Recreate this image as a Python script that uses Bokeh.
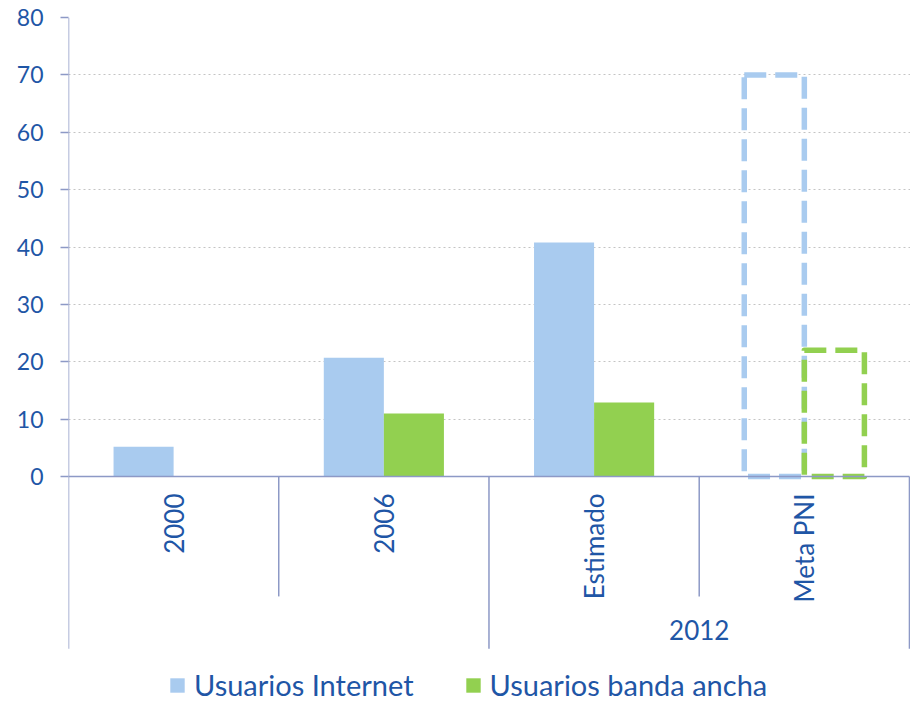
import math
from bokeh.plotting import figure
from bokeh.models import Range1d, FixedTicker, Legend, LegendItem, ColumnDataSource
from bokeh.core.properties import value
from bokeh.embed import file_html
from bokeh.resources import INLINE

# ---- data ----
categories = ["2000", "2006", "Estimado", "Meta PNI"]
groups = ["", "", "2012", "2012"]
internet = [5.2, 20.7, 40.8, 70.0]
banda = [0.0, 11.0, 12.9, 22.0]
is_target = [False, False, False, True]
y_ticks = [0, 10, 20, 30, 40, 50, 60, 70, 80]
series_names = ["Usuarios Internet", "Usuarios banda ancha"]

# ---- style ----
BLUE = "#A9CBEF"
GREEN = "#92D050"
AXIS = "#8D99C6"
TEXT = "#1F56A6"
GRID = "#C4C4C4"
FONT = "Lato"

n = len(categories)
bw = 60 / 210
xc = [i + 0.5 for i in range(n)]
x_int = [c - bw / 2 for c in xc]
x_ban = [c + bw / 2 for c in xc]

PX_PER_UNIT = 459 / 80
TOP = 17
H = 702
frame_h = H - TOP
y_bottom = 80 - frame_h / PX_PER_UNIT

p = figure(width=910, height=H,
           x_range=Range1d(0, n + 0.005), y_range=Range1d(y_bottom, 80),
           output_backend="svg", toolbar_location=None,
           x_axis_location=None,
           min_border_left=68, min_border_right=0,
           min_border_top=TOP, min_border_bottom=0)
p.outline_line_color = None
p.background_fill_color = "white"
p.xgrid.visible = False
p.ygrid.ticker = FixedTicker(ticks=y_ticks[1:])
p.ygrid.grid_line_color = GRID
p.ygrid.grid_line_dash = "2 3"
p.ygrid.grid_line_width = 1

ax = p.yaxis[0]
ax.ticker = FixedTicker(ticks=y_ticks)
ax.axis_line_color = None
ax.major_tick_line_color = AXIS
ax.major_tick_line_width = 1.5
ax.major_tick_in = 0
ax.major_tick_out = 8
ax.minor_tick_line_color = None
ax.major_label_standoff = 17
ax.major_label_text_font = FONT
ax.major_label_text_font_size = "23px"
ax.major_label_text_color = TEXT

solid = [i for i in range(n) if not is_target[i]]
target = [i for i in range(n) if is_target[i]]

src_int = ColumnDataSource(dict(x=[x_int[i] for i in solid], top=[internet[i] for i in solid]))
src_ban = ColumnDataSource(dict(x=[x_ban[i] for i in solid], top=[banda[i] for i in solid]))
src_int_t = ColumnDataSource(dict(x=[x_int[i] for i in target], top=[internet[i] for i in target]))
src_ban_t = ColumnDataSource(dict(x=[x_ban[i] for i in target], top=[banda[i] for i in target]))

r_int = p.vbar(x="x", top="top", bottom=0, width=bw, source=src_int, fill_color=BLUE, line_color=None)
r_ban = p.vbar(x="x", top="top", bottom=0, width=bw, source=src_ban, fill_color=GREEN, line_color=None)
p.vbar(x="x", top="top", bottom=0, width=bw, source=src_int_t, fill_alpha=0,
       line_color=BLUE, line_width=5.5, line_dash="22 9", line_join="round")
p.vbar(x="x", top="top", bottom=0, width=bw, source=src_ban_t, fill_alpha=0,
       line_color=GREEN, line_width=5.5, line_dash="22 9", line_join="round")

# value axis line (from bottom of category area to top)
long_depth, short_depth = -30, -20.9
p.segment(x0=[0], y0=[long_depth], x1=[0], y1=[y_ticks[-1]], line_color=AXIS, line_width=1.5)

# category axis: baseline and separators
p.segment(x0=[0], y0=[0], x1=[n], y1=[0], line_color=AXIS, line_width=1.5)
bx, by = [], []
for b in range(1, n + 1):
    edge = b == n
    differ = (not edge) and groups[b - 1] != groups[b]
    bx.append(b)
    by.append(long_depth if (edge or differ) else short_depth)
p.segment(x0=bx, y0=[0] * len(bx), x1=bx, y1=by, line_color=AXIS, line_width=1.5)

p.text(x=xc, y=[0] * n, text=categories, angle=math.pi / 2,
       text_align="right", text_baseline="middle", y_offset=17,
       text_font=value(FONT), text_font_size="26px", text_color=TEXT)

grp_names, grp_x = [], []
for g in dict.fromkeys(groups):
    if g:
        idx = [i for i in range(n) if groups[i] == g]
        grp_names.append(g)
        grp_x.append(sum(xc[i] for i in idx) / len(idx))
p.text(x=grp_x, y=[0] * len(grp_x), text=grp_names, text_align="center",
       text_baseline="middle", y_offset=153,
       text_font=value(FONT), text_font_size="26px", text_color=TEXT)

legend = Legend(items=[LegendItem(label=series_names[0], renderers=[r_int]),
                       LegendItem(label=series_names[1], renderers=[r_ban])],
                orientation="horizontal", location=(100, 0),
                label_text_font=FONT, label_text_font_size="29px", label_text_color=TEXT,
                glyph_width=18, glyph_height=18, spacing=50, label_standoff=8,
                border_line_color=None, background_fill_alpha=0, padding=0, margin=0)
p.add_layout(legend, "center")

open("out.html", "w").write(file_html(p, INLINE))
